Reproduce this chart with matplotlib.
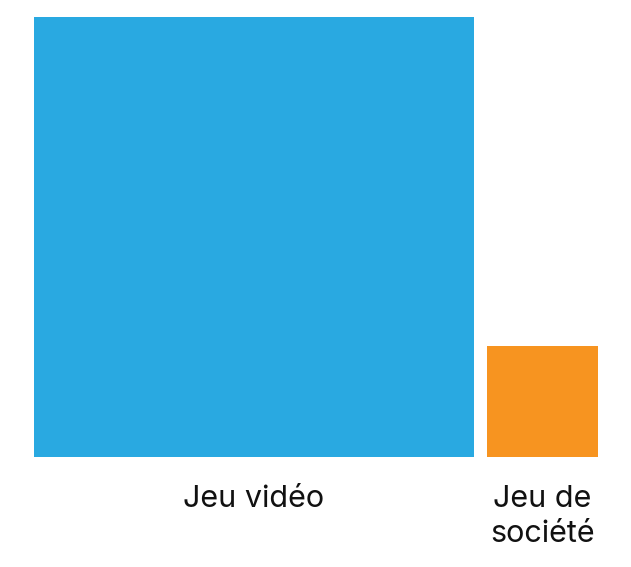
import numpy as np
import matplotlib
matplotlib.use("Agg")
import matplotlib.pyplot as plt
from matplotlib.patches import Rectangle

categories = ["Jeu vidéo", "Jeu de\nsociété"]
values = [94, 6]  # share (%), drawn as square areas
colors = ["#29A9E1", "#F79420"]

W, H = 631, 567
fig = plt.figure(figsize=(W / 100, H / 100), dpi=100)
ax = fig.add_axes([0, 0, 1, 1])
ax.set_xlim(0, W)
ax.set_ylim(H, 0)
ax.axis("off")

sides = 440 * np.sqrt(np.array(values) / max(values))
base_y = 457
x = 34
gap = 13
for cat, side, col in zip(categories, sides, colors):
    ax.add_patch(Rectangle((x, base_y - side), side, side, facecolor=col, edgecolor="none"))
    ax.text(x + side / 2, base_y + 28, cat, ha="center", va="top",
            fontsize=22, family="Inter", color="#111111", linespacing=1.32)
    x += side + gap

fig.savefig("out.png", dpi=100)
